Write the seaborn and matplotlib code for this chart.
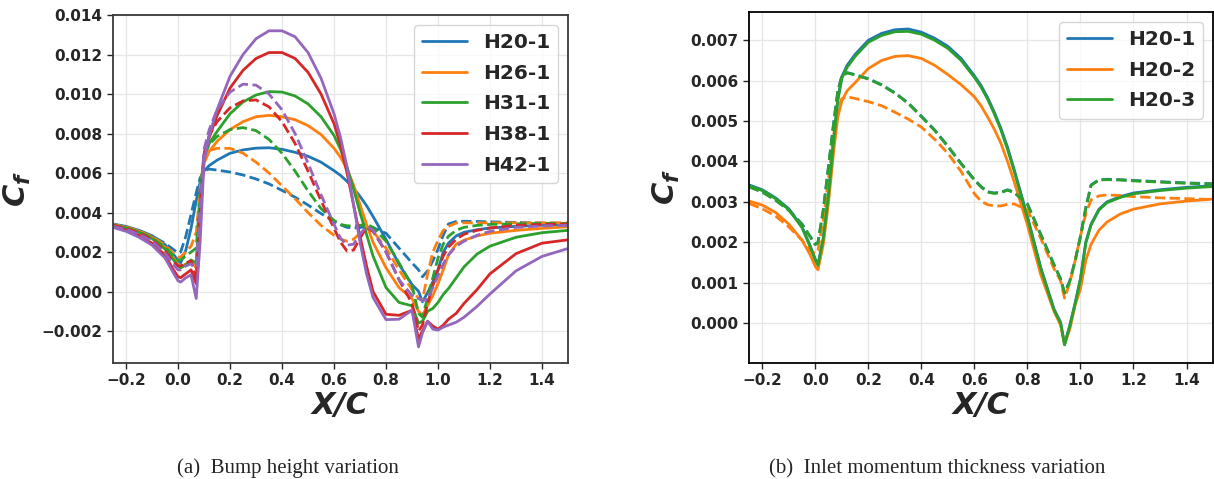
import numpy as np
import pandas as pd
import matplotlib
matplotlib.use("Agg")
import matplotlib.pyplot as plt
from matplotlib.ticker import FuncFormatter, MultipleLocator
import seaborn as sns

# Streamwise stations X/C shared by every skin-friction distribution
x_c = [-0.25, -0.2, -0.15, -0.1, -0.05, -0.02, 0.0, 0.01, 0.03, 0.05, 0.07, 0.085,
       0.1, 0.12, 0.15, 0.2, 0.25, 0.3, 0.35, 0.4, 0.45, 0.5, 0.55, 0.6, 0.625,
       0.65, 0.675, 0.7, 0.725, 0.75, 0.8, 0.85, 0.9, 0.925, 0.94, 0.96, 0.98,
       1.0, 1.02, 1.04, 1.07, 1.1, 1.15, 1.2, 1.3, 1.4, 1.5]

# Cf values in units of 1e-3 (solid = model A, dashed = model B)
h20_1_solid = [3.42, 3.30, 3.10, 2.83, 2.38, 1.92, 1.58, 1.45, 2.10, 3.20, 4.60, 5.55,
               6.10, 6.38, 6.65, 7.00, 7.17, 7.26, 7.28, 7.20, 7.05, 6.85, 6.55, 6.12, 5.88,
               5.58, 5.22, 4.82, 4.35, 3.80, 2.64, 1.38, 0.35, 0.02, -0.52, -0.05, 0.50,
               1.10, 2.00, 2.45, 2.82, 3.00, 3.13, 3.22, 3.30, 3.36, 3.40]
h20_1_dash = [3.38, 3.25, 3.05, 2.80, 2.45, 2.15, 1.95, 2.00, 2.80, 3.90, 5.00, 5.75,
              6.12, 6.20, 6.15, 6.05, 5.90, 5.70, 5.45, 5.12, 4.78, 4.38, 3.95, 3.55, 3.38,
              3.25, 3.22, 3.24, 3.30, 3.24, 2.95, 2.20, 1.45, 1.10, 0.75, 1.05, 1.55,
              2.15, 2.85, 3.42, 3.55, 3.56, 3.55, 3.53, 3.50, 3.47, 3.45]

h26_1_solid = [3.38, 3.26, 3.05, 2.75, 2.25, 1.75, 1.35, 1.25, 1.40, 1.55, 1.20, 4.50,
               6.50, 7.10, 7.60, 8.20, 8.60, 8.85, 8.92, 8.85, 8.70, 8.40, 7.95, 7.25, 6.80,
               6.20, 5.40, 4.40, 3.40, 2.50, 1.20, 0.20, -0.35, -1.00, -1.20, -0.70, -0.20,
               0.40, 1.10, 1.85, 2.40, 2.60, 2.82, 2.95, 3.10, 3.20, 3.28]
h26_1_dash = [3.38, 3.26, 3.06, 2.78, 2.35, 1.95, 1.75, 1.75, 2.00, 2.30, 3.00, 5.20,
              6.80, 7.15, 7.25, 7.25, 7.00, 6.55, 6.00, 5.35, 4.70, 4.00, 3.35, 2.85, 2.65,
              2.55, 2.65, 2.95, 3.20, 3.05, 2.20, 1.10, 0.10, -0.35, -0.45, 0.90, 2.00,
              2.60, 3.10, 3.30, 3.47, 3.48, 3.48, 3.48, 3.48, 3.48, 3.48]

h31_1_solid = [3.35, 3.22, 3.00, 2.68, 2.15, 1.65, 1.30, 1.20, 1.35, 1.60, 1.45, 4.50,
               6.80, 7.50, 8.10, 9.00, 9.60, 9.95, 10.12, 10.10, 9.90, 9.50, 8.85, 7.90, 7.20,
               6.30, 5.20, 4.00, 2.90, 1.80, 0.20, -0.55, -0.72, -1.60, -1.50, -1.00, -0.85,
               -0.55, -0.15, 0.15, 0.70, 1.25, 1.90, 2.30, 2.75, 2.98, 3.10]
h31_1_dash = [3.36, 3.23, 3.02, 2.72, 2.25, 1.85, 1.60, 1.60, 1.80, 2.00, 2.20, 5.00,
              6.90, 7.45, 7.85, 8.20, 8.30, 8.15, 7.70, 7.00, 6.10, 5.10, 4.20, 3.60, 3.40,
              3.33, 3.32, 3.35, 3.42, 3.25, 2.55, 1.45, 0.30, -1.10, -1.30, -0.30, 0.70,
              1.70, 2.40, 2.80, 3.10, 3.25, 3.35, 3.40, 3.43, 3.45, 3.45]

h38_1_solid = [3.30, 3.12, 2.85, 2.45, 1.85, 1.15, 0.75, 0.70, 0.90, 1.10, 0.40, 3.50,
               6.90, 7.80, 8.90, 10.30, 11.20, 11.80, 12.10, 12.10, 11.80, 11.10, 10.00, 8.50, 7.40,
               6.00, 4.40, 2.80, 1.30, 0.00, -1.15, -1.20, -0.95, -2.40, -2.00, -1.50, -1.75,
               -1.90, -1.70, -1.40, -1.10, -0.60, 0.10, 0.90, 1.92, 2.45, 2.62]
h38_1_dash = [3.35, 3.20, 2.97, 2.62, 2.05, 1.55, 1.30, 1.30, 1.45, 1.55, 0.70, 4.00,
              7.00, 7.90, 8.60, 9.30, 9.65, 9.70, 9.35, 8.60, 7.50, 6.10, 4.60, 3.20, 2.50,
              2.05, 2.10, 2.70, 3.25, 3.05, 2.00, 0.60, -0.60, -2.00, -1.70, -0.60, 0.30,
              1.10, 1.80, 2.25, 2.65, 2.90, 3.10, 3.22, 3.35, 3.40, 3.42]

h42_1_solid = [3.25, 3.05, 2.75, 2.35, 1.70, 1.00, 0.55, 0.48, 0.70, 0.85, -0.35, 2.50,
               6.60, 7.90, 9.20, 10.90, 12.00, 12.80, 13.20, 13.20, 12.90, 12.10, 10.80, 9.00, 7.80,
               6.30, 4.40, 2.50, 0.90, -0.30, -1.42, -1.40, -0.95, -2.80, -2.10, -1.50, -1.90,
               -1.95, -1.80, -1.70, -1.55, -1.30, -0.75, -0.12, 1.05, 1.78, 2.18]
h42_1_dash = [3.30, 3.15, 2.90, 2.55, 1.95, 1.40, 1.10, 1.10, 1.30, 1.40, 1.20, 4.20,
              7.20, 8.20, 9.20, 10.10, 10.50, 10.45, 10.00, 9.20, 8.00, 6.50, 4.90, 3.40, 2.70,
              2.35, 2.40, 2.90, 3.30, 3.10, 2.00, 0.60, -0.20, -0.35, -0.45, -0.40, 0.20,
              0.80, 1.40, 1.85, 2.30, 2.55, 2.85, 3.05, 3.25, 3.32, 3.35]

h20_2_solid = [3.02, 2.92, 2.74, 2.45, 2.05, 1.70, 1.40, 1.32, 1.95, 3.00, 4.30, 5.10,
               5.50, 5.75, 5.95, 6.30, 6.50, 6.60, 6.62, 6.55, 6.38, 6.15, 5.90, 5.60, 5.38,
               5.10, 4.80, 4.45, 4.00, 3.50, 2.43, 1.20, 0.30, -0.05, -0.52, -0.15, 0.45,
               0.85, 1.55, 1.95, 2.30, 2.50, 2.70, 2.82, 2.95, 3.02, 3.07]
h20_2_dash = [2.96, 2.83, 2.65, 2.38, 2.05, 1.80, 1.72, 1.80, 2.55, 3.60, 4.70, 5.30,
              5.55, 5.60, 5.56, 5.48, 5.38, 5.22, 5.05, 4.85, 4.55, 4.20, 3.75, 3.20, 3.02,
              2.93, 2.90, 2.90, 2.94, 2.95, 2.80, 2.10, 1.35, 1.05, 0.62, 1.00, 1.55,
              2.15, 2.70, 3.05, 3.15, 3.17, 3.16, 3.13, 3.10, 3.08, 3.06]

h20_3_solid = [3.40, 3.28, 3.08, 2.81, 2.36, 1.90, 1.56, 1.43, 2.08, 3.18, 4.58, 5.52,
               6.06, 6.33, 6.60, 6.95, 7.12, 7.21, 7.22, 7.15, 7.00, 6.80, 6.50, 6.08, 5.84,
               5.54, 5.18, 4.78, 4.30, 3.76, 2.60, 1.35, 0.33, 0.00, -0.54, -0.07, 0.48,
               1.08, 1.98, 2.43, 2.80, 2.98, 3.11, 3.20, 3.28, 3.34, 3.38]
h20_3_dash = [3.37, 3.24, 3.04, 2.79, 2.44, 2.14, 1.94, 1.99, 2.79, 3.89, 4.99, 5.74,
              6.11, 6.19, 6.14, 6.04, 5.89, 5.69, 5.44, 5.11, 4.77, 4.37, 3.94, 3.54, 3.37,
              3.24, 3.21, 3.23, 3.29, 3.23, 2.94, 2.19, 1.44, 1.09, 0.74, 1.04, 1.54,
              2.14, 2.84, 3.41, 3.54, 3.55, 3.54, 3.52, 3.49, 3.46, 3.44]

cases_height = ["H20-1", "H26-1", "H31-1", "H38-1", "H42-1"]
cases_theta = ["H20-1", "H20-2", "H20-3"]
palette = sns.color_palette("tab10")

sns.set_style("whitegrid", {
    "grid.color": "#e6e6e6",
    "xtick.bottom": True,
    "ytick.left": True,
    "axes.edgecolor": "black",
})
plt.rcParams["font.family"] = ["DejaVu Sans"]
plt.rcParams["mathtext.fontset"] = "custom"
plt.rcParams["mathtext.it"] = "DejaVu Sans:italic:bold"
plt.rcParams["mathtext.rm"] = "DejaVu Sans:bold"
plt.rcParams["xtick.major.size"] = 4
plt.rcParams["ytick.major.size"] = 4
plt.rcParams["xtick.major.width"] = 1.0
plt.rcParams["ytick.major.width"] = 1.0

fig = plt.figure(figsize=(12.14, 4.79), dpi=100)
ax_a = fig.add_axes([0.0931, 0.2428, 0.3748, 0.7259])
ax_b = fig.add_axes([0.6170, 0.2428, 0.3822, 0.7322])


def cf(values):
    return np.asarray(values) * 1e-3


def draw(ax, solid, dashed, labels):
    for i, (s, d, lab) in enumerate(zip(solid, dashed, labels)):
        col = palette[i]
        sns.lineplot(x=x_c, y=cf(s), ax=ax, color=col, lw=2.0, label=lab, sort=False)
        sns.lineplot(x=x_c, y=cf(d), ax=ax, color=col, lw=2.0, linestyle="--", sort=False)


draw(ax_a,
     [h20_1_solid, h26_1_solid, h31_1_solid, h38_1_solid, h42_1_solid],
     [h20_1_dash, h26_1_dash, h31_1_dash, h38_1_dash, h42_1_dash],
     cases_height)
draw(ax_b,
     [h20_1_solid, h20_2_solid, h20_3_solid],
     [h20_1_dash, h20_2_dash, h20_3_dash],
     cases_theta)


def num_fmt(decimals):
    def f(v, _):
        s = f"{v:.{decimals}f}"
        if float(s) == 0:
            s = s.lstrip("-")
        return s.replace("-", "\u2212")
    return FuncFormatter(f)


for ax, ylim, ystep, edge in ((ax_a, (-0.0036, 0.0140), 0.002, "#3a3a3a"),
                              (ax_b, (-0.00098, 0.0077), 0.001, "black")):
    ax.set_xlim(-0.25, 1.5)
    ax.set_ylim(*ylim)
    ax.xaxis.set_major_locator(MultipleLocator(0.2))
    ax.yaxis.set_major_locator(MultipleLocator(ystep))
    ax.xaxis.set_major_formatter(num_fmt(1))
    ax.yaxis.set_major_formatter(num_fmt(3))
    ax.tick_params(labelsize=11)
    for lab in ax.get_xticklabels() + ax.get_yticklabels():
        lab.set_fontweight("bold")
    for sp in ax.spines.values():
        sp.set_edgecolor(edge)
        sp.set_linewidth(1.3)
    ax.grid(True, color="#e6e6e6", lw=0.9)
    ax.set_xlabel("X/C", fontsize=22, fontweight="bold", fontstyle="italic", labelpad=2)
    ax.set_ylabel(r"$C_f$", fontsize=22, labelpad=6)
    leg = ax.legend(loc="upper right", prop={"weight": "bold", "size": 14.5},
                    handlelength=2.2, borderaxespad=0.5, labelspacing=0.58)

fig.text(0.237, 0.022, "(a)  Bump height variation", ha="center", va="center",
         family="Liberation Serif", fontsize=15)
fig.text(0.772, 0.022, "(b)  Inlet momentum thickness variation", ha="center", va="center",
         family="Liberation Serif", fontsize=15)

fig.savefig("out.png", dpi=100)
